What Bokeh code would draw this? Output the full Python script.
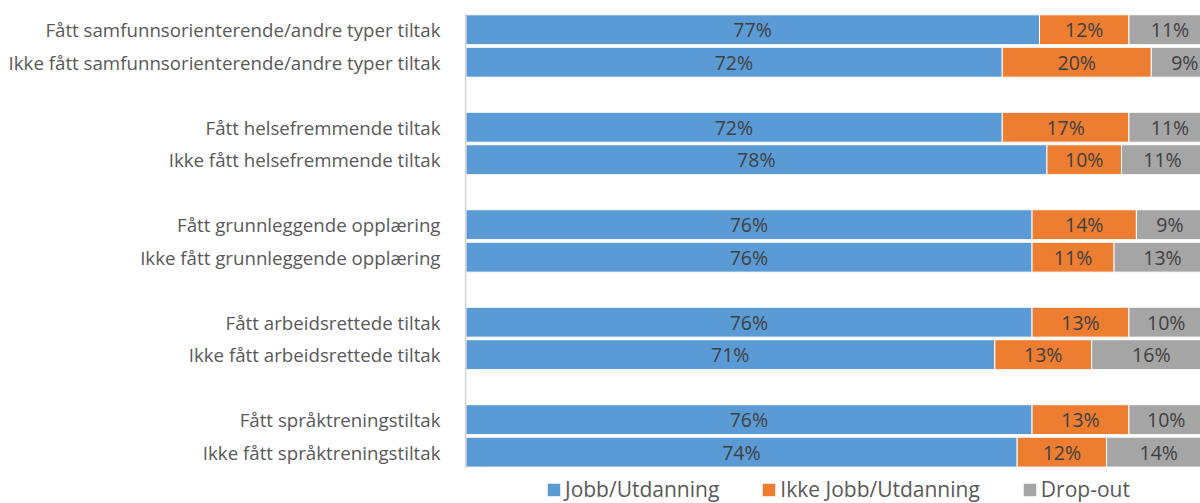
from bokeh.plotting import figure
from bokeh.models import Range1d, FixedTicker, ColumnDataSource, Legend, LegendItem
from bokeh.core.properties import value
from bokeh.embed import file_html
from bokeh.resources import INLINE

categories = [
    "Fått samfunnsorienterende/andre typer tiltak",
    "Ikke fått samfunnsorienterende/andre typer tiltak",
    "Fått helsefremmende tiltak",
    "Ikke fått helsefremmende tiltak",
    "Fått grunnleggende opplæring",
    "Ikke fått grunnleggende opplæring",
    "Fått arbeidsrettede tiltak",
    "Ikke fått arbeidsrettede tiltak",
    "Fått språktreningstiltak",
    "Ikke fått språktreningstiltak",
]
jobb = [77, 72, 72, 78, 76, 76, 76, 71, 76, 74]
ikke_jobb = [12, 20, 17, 10, 14, 11, 13, 13, 13, 12]
dropout = [11, 9, 11, 11, 9, 13, 10, 16, 10, 14]
series_names = ["Jobb/Utdanning", "Ikke Jobb/Utdanning", "Drop-out"]
colors = ["#5B9BD5", "#ED7D31", "#A5A5A5"]

FONT = "Open Sans"

# row positions: pairs separated by a blank row
ypos = []
for i in range(len(categories)):
    g, k = divmod(i, 2)
    ypos.append(g * 3 + k)

src = ColumnDataSource(dict(y=ypos, cat=categories, jobb=jobb, ikke=ikke_jobb, drop=dropout))

# frame runs to the bottom so that the legend can sit inside it
p = figure(width=1200, height=503, output_backend="svg", toolbar_location=None,
           x_range=Range1d(-0.15, 98.6), y_range=Range1d(14.58, -0.5),
           min_border_left=464, min_border_right=0, min_border_top=13, min_border_bottom=0)
p.outline_line_color = None
p.grid.visible = False
p.xaxis.visible = False

renderers = p.hbar_stack(["jobb", "ikke", "drop"], y="y", height=0.92, color=colors,
                         line_color="white", line_width=1, source=src)

# category axis line (only over the rows)
p.segment(x0=[0], y0=[-0.5], x1=[0], y1=[13.5], line_color="#D9D9D9", line_width=2)

# labels centred in each segment
series = [jobb, ikke_jobb, dropout]
for j, col in enumerate(series):
    xs, ys, txt = [], [], []
    for i in range(len(categories)):
        base = sum(series[k][i] for k in range(j))
        xs.append(base + col[i] / 2)
        ys.append(ypos[i])
        txt.append(f"{col[i]}%")
    p.text(x=xs, y=ys, text=txt, text_align="center", text_baseline="middle",
           text_font=value(FONT), text_font_size="19.5px", text_color="#404040")

yax = p.yaxis[0]
yax.ticker = FixedTicker(ticks=ypos)
yax.major_label_overrides = {y: c for y, c in zip(ypos, categories)}
yax.major_tick_line_color = None
yax.minor_tick_line_color = None
yax.axis_line_color = None
yax.major_label_text_font = FONT
yax.major_label_text_font_size = "18.7px"
yax.major_label_text_color = "#595959"
yax.major_label_standoff = 18

legend = Legend(items=[LegendItem(label=n, renderers=[r]) for n, r in zip(series_names, renderers)],
                orientation="horizontal", location=(81, 0), padding=0, margin=0,
                glyph_width=17, glyph_height=17, label_standoff=3, spacing=41,
                label_text_font=FONT, label_text_font_size="21px", label_text_color="#595959",
                border_line_color=None, background_fill_alpha=0, label_height=20)
p.add_layout(legend, "center")

open("out.html", "w").write(file_html(p, INLINE))
